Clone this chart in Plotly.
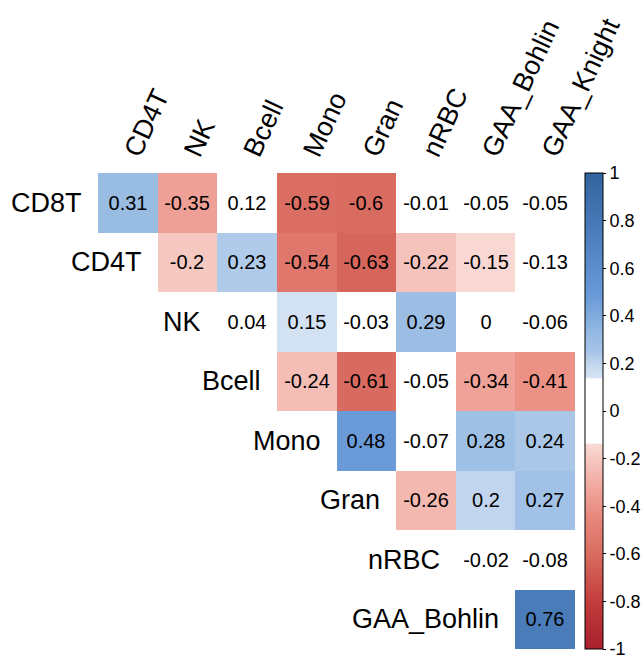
import plotly.graph_objects as go

col_labels = ["CD4T", "NK", "Bcell", "Mono", "Gran", "nRBC", "GAA_Bohlin", "GAA_Knight"]
row_labels = ["CD8T", "CD4T", "NK", "Bcell", "Mono", "Gran", "nRBC", "GAA_Bohlin"]

r_CD8T = [0.31, -0.35, 0.12, -0.59, -0.6, -0.01, -0.05, -0.05]
r_CD4T = [-0.2, 0.23, -0.54, -0.63, -0.22, -0.15, -0.13]
r_NK = [0.04, 0.15, -0.03, 0.29, 0, -0.06]
r_Bcell = [-0.24, -0.61, -0.05, -0.34, -0.41]
r_Mono = [0.48, -0.07, 0.28, 0.24]
r_Gran = [-0.26, 0.2, 0.27]
r_nRBC = [-0.02, -0.08]
r_GAA_Bohlin = [0.76]

cbar_vals = [1, 0.8, 0.6, 0.4, 0.2, 0, -0.2, -0.4, -0.6, -0.8, -1]
cbar_text = ["1", "0.8", "0.6", "0.4", "0.2", "0", "-0.2", "-0.4", "-0.6", "-0.8", "-1"]

rows = [r_CD8T, r_CD4T, r_NK, r_Bcell, r_Mono, r_Gran, r_nRBC, r_GAA_Bohlin]
n = len(col_labels)
z, txt = [], []
for i, r in enumerate(rows):
    pad = n - len(r)
    z.append([None] * pad + r)
    txt.append([""] * pad + [f"{v:g}" for v in r])

stops = [
    (-1.0, "#A8202C"), (-0.8, "#C23D3D"), (-0.6, "#D96C61"), (-0.45, "#E8877C"),
    (-0.33, "#F0A59B"), (-0.2, "#F6C8C2"), (-0.14, "#F9DAD6"), (-0.135, "#FFFFFF"),
    (0.135, "#FFFFFF"), (0.14, "#D6E4F4"), (0.2, "#C1D6EE"), (0.25, "#A5C3E7"),
    (0.31, "#99BCE3"), (0.48, "#6A9BD8"), (0.76, "#4A7CBA"), (1.0, "#33649F"),
]
cscale = [[(v + 1) / 2, c] for v, c in stops]

font = "Liberation Sans, Arial, sans-serif"

fig = go.Figure(go.Heatmap(
    z=z, x=col_labels, y=row_labels, text=txt, texttemplate="%{text}",
    textfont=dict(size=20, color="black", family=font),
    colorscale=cscale, zmin=-1, zmax=1, hoverongaps=False,
    colorbar=dict(
        x=1.0, xanchor="left", xpad=10, y=0.5, yanchor="middle", ypad=0,
        len=1, lenmode="fraction",
        thickness=18, thicknessmode="pixels", outlinewidth=1, outlinecolor="black",
        ticks="outside", ticklen=3, tickcolor="black", tickwidth=1,
        tickvals=cbar_vals, ticktext=cbar_text, ticklabeloverflow="allow",
        tickfont=dict(size=18, color="black", family=font),
    ),
))

for i, lab in enumerate(row_labels):
    fig.add_annotation(
        x=i - 0.5, y=lab, xref="x", yref="y", text=lab, showarrow=False,
        xanchor="right", yanchor="middle", xshift=-14,
        font=dict(size=27, color="black", family=font),
    )

fig.update_layout(
    width=641, height=656,
    margin=dict(l=98, r=66, t=173, b=7, autoexpand=False),
    paper_bgcolor="white", plot_bgcolor="white",
    xaxis=dict(side="top", tickangle=-65, showgrid=False, zeroline=False, ticks="",
               automargin=False, range=[-0.5, n - 0.5], autorange=False,
               tickfont=dict(size=27, color="black", family=font), showline=False),
    yaxis=dict(range=[len(row_labels) - 0.5, -0.5], autorange=False,
               showticklabels=False, showgrid=False,
               automargin=False,
               zeroline=False, ticks="", showline=False),
)

fig.write_html("out.html")
